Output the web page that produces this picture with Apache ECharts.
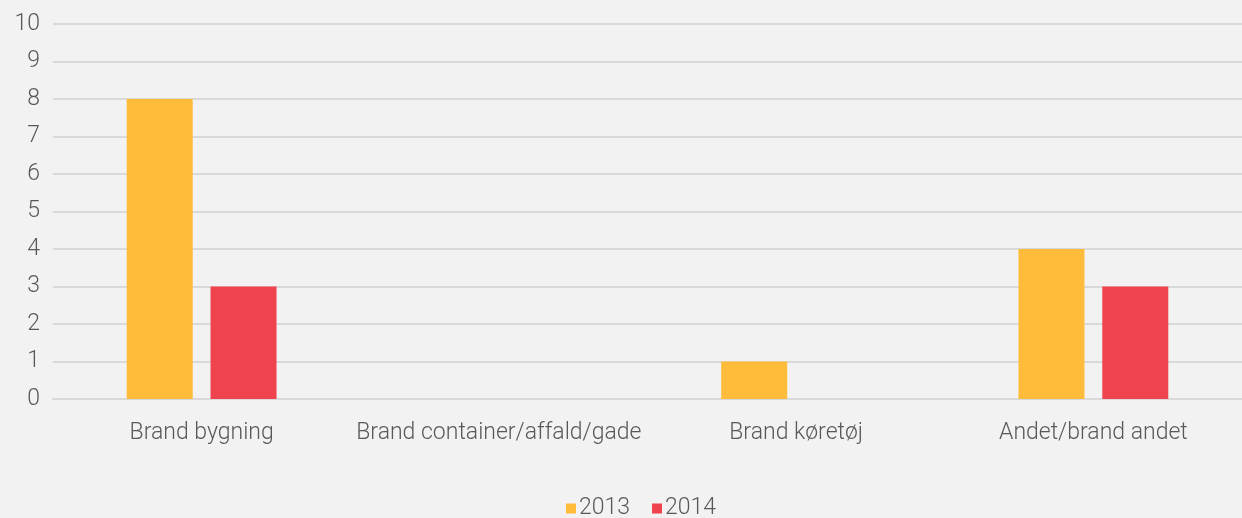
<!DOCTYPE html>
<html>
<head>
<meta charset="utf-8">
<script src="https://cdn.jsdelivr.net/npm/echarts@6/dist/echarts.min.js"></script>
<style>
  html, body { margin: 0; padding: 0; background: #f2f2f2; }
  #chart { width: 1242px; height: 518px; }
</style>
</head>
<body>
<div id="chart"></div>
<script>
const categories = ['Brand bygning', 'Brand container/affald/gade', 'Brand køretøj', 'Andet/brand andet'];
const values2013 = [8, 0, 1, 4];
const values2014 = [3, 0, 0, 3];
const seriesNames = ['2013', '2014'];
const seriesColors = ['#ffbc3a', '#ef434d'];

const chart = echarts.init(document.getElementById('chart'));
const textFont = { fontFamily: 'Roboto', fontWeight: 300, fontSize: 23, color: '#595959' };

chart.setOption({
    backgroundColor: '#f2f2f2',
    animation: false,
    grid: { left: 53, right: 0, top: 24, bottom: 119 },
    legend: {
        bottom: -7,
        left: 561,
        itemWidth: 10,
        itemHeight: 10,
        itemGap: 22,
        icon: 'rect',
        textStyle: { ...textFont, padding: [0, 0, 0, -2] },
        data: seriesNames
    },
    xAxis: {
        type: 'category',
        data: categories,
        axisLine: { lineStyle: { color: '#d9d9d9', width: 2 } },
        axisTick: { show: false },
        axisLabel: { ...textFont, margin: 23, interval: 0 }
    },
    yAxis: {
        type: 'value',
        min: 0,
        max: 10,
        interval: 1,
        axisLine: { show: false },
        axisTick: { show: false },
        splitLine: { lineStyle: { color: '#d9d9d9', width: 2 } },
        axisLabel: { ...textFont, margin: 13 }
    },
    series: [
        { name: seriesNames[0], type: 'bar', data: values2013, barWidth: 66, barGap: '27%', itemStyle: { color: seriesColors[0] } },
        { name: seriesNames[1], type: 'bar', data: values2014, barWidth: 66, itemStyle: { color: seriesColors[1] } }
    ]
});
</script>
</body>
</html>
